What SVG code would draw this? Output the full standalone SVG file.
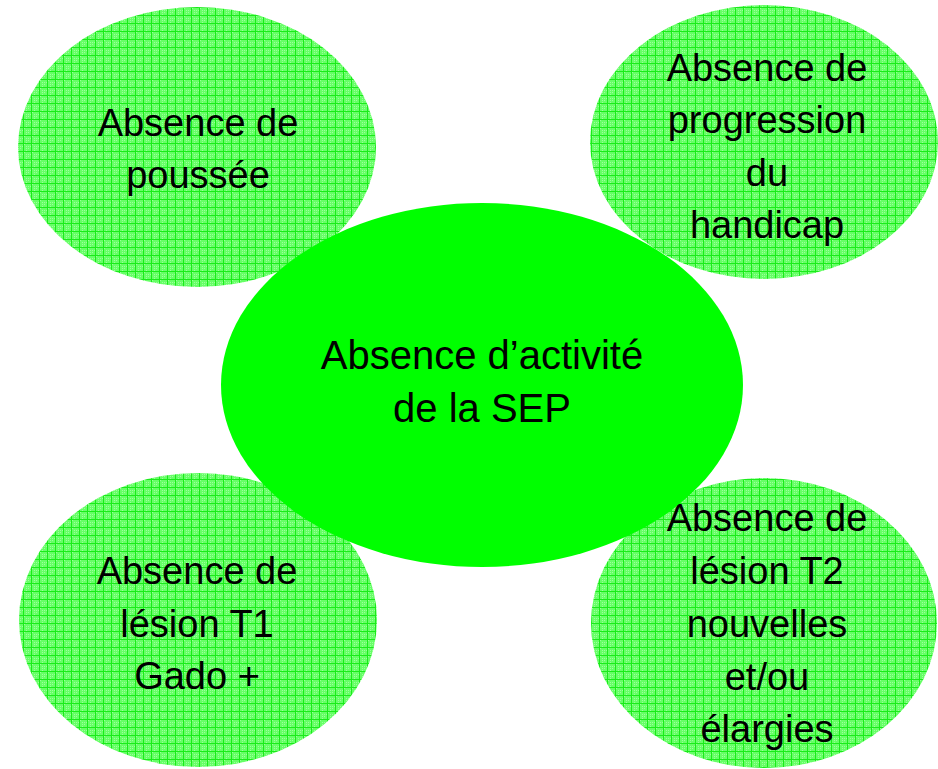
<svg xmlns="http://www.w3.org/2000/svg" width="938" height="769" viewBox="0 0 938 769">
<style>
.t{font-family:"Liberation Sans",Arial,sans-serif;font-size:38px;fill:#000;text-anchor:middle}
.c{font-size:40px}
.sat{fill:url(#grid)}
.core{fill:#00ff00}
</style>
<defs>
<pattern id="grid" width="8" height="8" patternUnits="userSpaceOnUse">
<rect width="8" height="8" fill="#66ff66"/>
<rect x="0" y="0" width="1" height="1" fill="#9cff9c"/>
<rect x="2" y="2" width="1" height="1" fill="#9cff9c"/>
<rect x="4" y="4" width="1" height="1" fill="#9cff9c"/>
<rect x="2" y="4" width="1" height="1" fill="#9cff9c"/>
<rect x="4" y="2" width="1" height="1" fill="#9cff9c"/>
<rect x="6" y="2" width="1" height="1" fill="#9cff9c"/>
<rect x="2" y="6" width="1" height="1" fill="#9cff9c"/>
<rect x="0" y="7" width="8" height="1" fill="#1aeb1a"/>
<rect x="7" y="0" width="1" height="8" fill="#1aeb1a"/>
</pattern>
</defs>
<g id="connectors"/>
<g id="node-poussee">
<ellipse class="sat" cx="197" cy="147" rx="179" ry="140"/>
<text class="t" x="198" y="136">Absence de</text>
<text class="t" x="198" y="188">poussée</text>
</g>
<g id="node-handicap">
<ellipse class="sat" cx="764" cy="142" rx="174" ry="137"/>
<text class="t" x="767" y="81">Absence de</text>
<text class="t" x="767" y="133">progression</text>
<text class="t" x="767" y="186">du</text>
<text class="t" x="767" y="238">handicap</text>
</g>
<g id="node-t1">
<ellipse class="sat" cx="198" cy="620" rx="179" ry="147"/>
<text class="t" x="197" y="584">Absence de</text>
<text class="t" x="197" y="637">lésion T1</text>
<text class="t" x="197" y="689">Gado +</text>
</g>
<g id="node-t2">
<ellipse class="sat" cx="764" cy="623" rx="173" ry="145"/>
<text class="t" x="767" y="531">Absence de</text>
<text class="t" x="767" y="584">lésion T2</text>
<text class="t" x="767" y="637">nouvelles</text>
<text class="t" x="767" y="690">et/ou</text>
<text class="t" x="767" y="742">élargies</text>
</g>
<g id="node-center">
<ellipse class="core" cx="482" cy="385" rx="261" ry="182"/>
<text class="t c" x="482" y="369">Absence d’activité</text>
<text class="t c" x="482" y="422">de la SEP</text>
</g>
</svg>
